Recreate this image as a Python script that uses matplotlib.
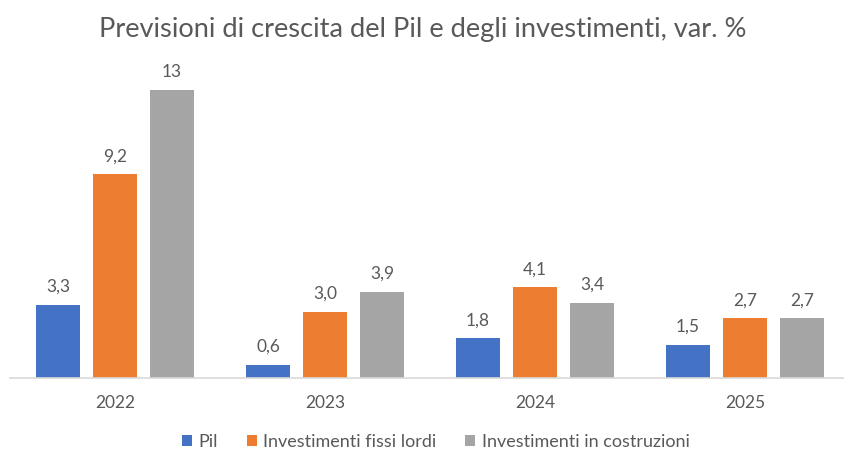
import matplotlib
matplotlib.use("Agg")
import matplotlib.pyplot as plt
import numpy as np

plt.rcParams['font.family'] = ['Lato', 'DejaVu Sans']

categories = ["2022", "2023", "2024", "2025"]
series_names = ["Pil", "Investimenti fissi lordi", "Investimenti in costruzioni"]
pil = [3.3, 0.6, 1.8, 1.5]
inv_fissi = [9.2, 3.0, 4.1, 2.7]
inv_costr = [13, 3.9, 3.4, 2.7]
labels_pil = ["3,3", "0,6", "1,8", "1,5"]
labels_fissi = ["9,2", "3,0", "4,1", "2,7"]
labels_costr = ["13", "3,9", "3,4", "2,7"]

colors = ["#4472C4", "#ED7D31", "#A5A5A5"]
text_color = "#595959"

W, H = 845, 451
fig = plt.figure(figsize=(W/100, H/100), dpi=100)
ax_left, ax_right = 10, 850
ax_bottom, ax_top = 378, 70
ax = fig.add_axes([ax_left/W, 1 - ax_bottom/H, (ax_right-ax_left)/W, (ax_bottom-ax_top)/H])

x = np.arange(len(categories))
bw = 0.21
off = 0.271
data = [pil, inv_fissi, inv_costr]
labs = [labels_pil, labels_fissi, labels_costr]
for i, (vals, lab) in enumerate(zip(data, labs)):
    pos = x + (i - 1) * off
    bars = ax.bar(pos, vals, width=bw, color=colors[i], label=series_names[i], zorder=2)
    for b, t in zip(bars, lab):
        ax.text(b.get_x() + b.get_width()/2, b.get_height() + 0.45, t,
                ha='center', va='bottom', fontsize=12.5, color=text_color)

ax.set_xlim(-0.5, 3.5)
ax.set_ylim(0, (ax_bottom-ax_top)/22.15)
ax.set_xticks(x)
ax.set_xticklabels(categories, fontsize=12.5, color=text_color)
ax.tick_params(axis='x', length=0, pad=12)
ax.set_yticks([])
for s in ['top', 'right', 'left']:
    ax.spines[s].set_visible(False)
ax.spines['bottom'].set_color('#D9D9D9')
ax.spines['bottom'].set_linewidth(1.2)

fig.text(0.5, 1 - 29/H, "Previsioni di crescita del Pil e degli investimenti, var. %",
         ha='center', va='center', fontsize=19.6, color=text_color)

leg = fig.legend(loc='center', bbox_to_anchor=(436/W, 1 - 442/H), ncol=3, frameon=False,
                 fontsize=13, handlelength=0.55, handleheight=0.55, handletextpad=0.35,
                 columnspacing=1.6, labelcolor=text_color)

fig.savefig("out.png", dpi=100)
